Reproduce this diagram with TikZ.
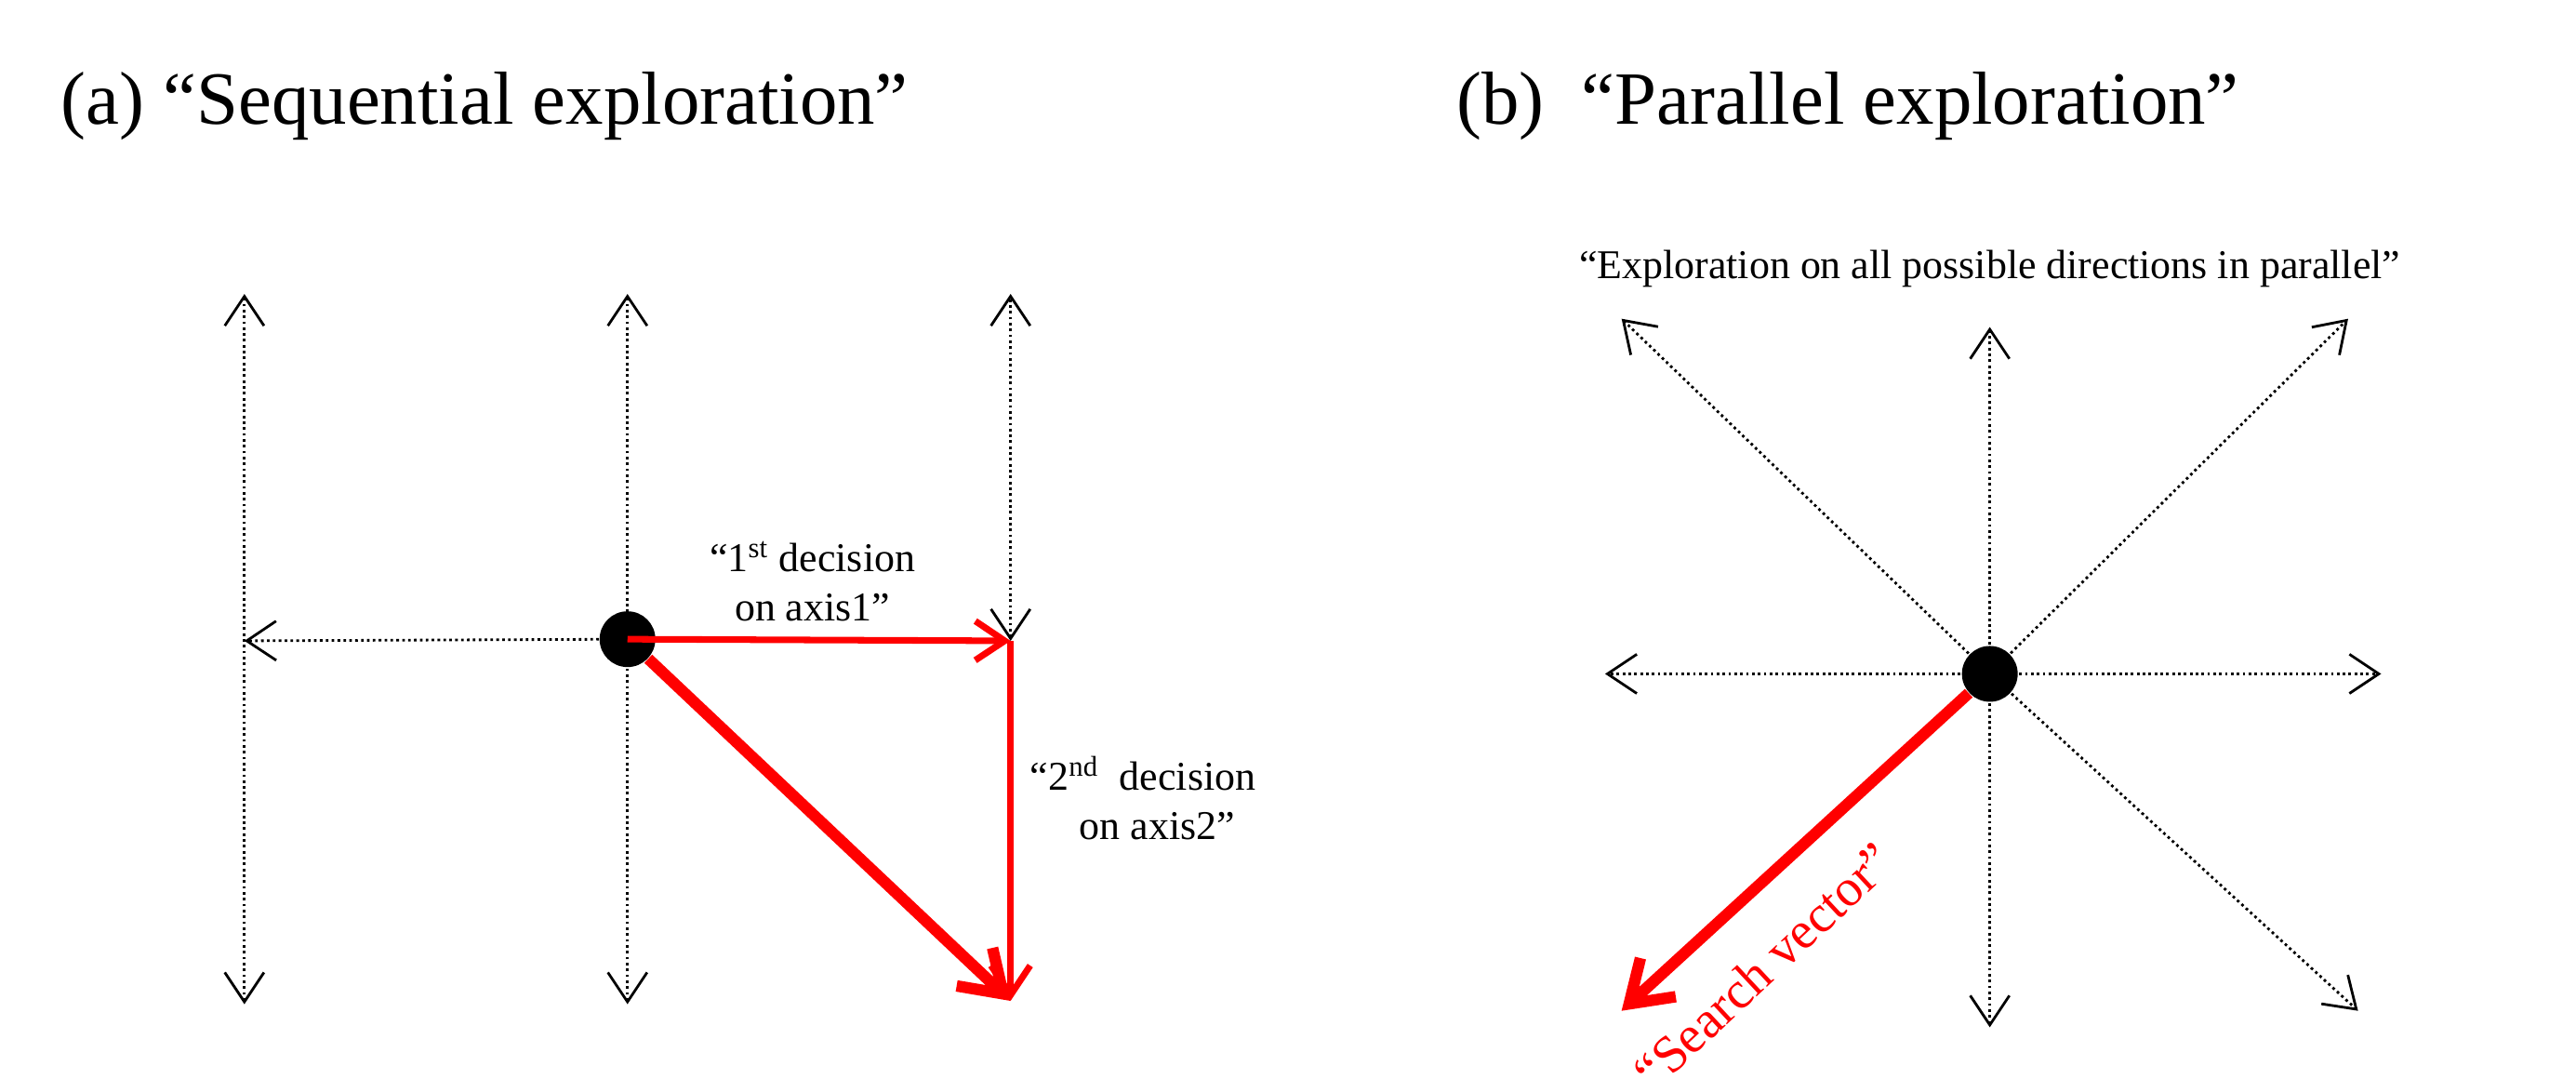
\documentclass[tikz,border=0pt]{standalone}
\usepackage{fontspec}
\setmainfont{Liberation Serif}
\usetikzlibrary{arrows.meta}
\begin{document}
\begin{tikzpicture}[x=0.01776cm, y=-0.01776cm,
  axe/.style={densely dotted, thick, {Straight Barb[length=9pt,width=12pt]}-{Straight Barb[length=9pt,width=12pt]}},
  ray/.style={densely dotted, thick, -{Straight Barb[length=9pt,width=12pt]}},
  pas/.style={draw=red, line width=2pt, -{Straight Barb[length=9pt,width=12pt]}},
  vecteur/.style={draw=red, line width=3.5pt, -{Straight Barb[length=12pt,width=16pt]}},
  titre/.style={font=\fontsize{23}{27}\selectfont, anchor=west},
  note/.style={font=\fontsize{12.5}{15}\selectfont, align=center},
  point/.style={circle, fill=black, minimum size=0.6cm, inner sep=0pt}
]
\useasboundingbox (0,0) rectangle (1560,653);
%  (a) exploration sequentielle
\node[titre] (ta) at (30,64) {(a) “Sequential exploration”};
\node[point] (oa) at (380,387) {};
\coordinate (h1) at (148,178); \coordinate (b1) at (148,608);
\coordinate (h2) at (380,178); \coordinate (b2) at (380,608);
\coordinate (h3) at (612,178); \coordinate (b3) at (612,388);
\coordinate (g) at (148,388);
\coordinate (fin) at (612,606);
\draw[axe] (b1) -- (h1);
\draw[axe] (b2) -- (h2);
\draw[axe] (b3) -- (h3);
\draw[ray] (oa) -- (g);
\draw[pas] (oa.center) -- (b3);
\draw[pas] (b3) -- (fin);
\draw[vecteur] (oa) -- (fin);
\node[note] (d1) at (492,352) {“1\textsuperscript{st} decision\\ on axis1”};
\node[note, anchor=west] (d2) at (617,483) {“2\textsuperscript{nd}\ \ decision\\ \hspace*{0.7em}on axis2”};
%  (b) exploration parallele
\node[titre] (tb) at (875,64) {(b)\ \ “Parallel exploration”};
\node[note] (tout) at (1205,163) {“Exploration on all possible directions in parallel”};
\node[point] (ob) at (1205,408) {};
\foreach \nom/\x/\y in {n/1205/198, s/1205/622, o/972/408, e/1442/408, ne/1422/193, no/982/193, se/1428/612}
  \draw[ray] (ob.center) -- (\x,\y) coordinate (\nom);
\coordinate (so) at (982,612);
\draw[vecteur] (ob) -- (so);
\node[red, font=\fontsize{16}{19}\selectfont, rotate=43] (sv) at (1068,585) {“Search vector”};
\end{tikzpicture}
\end{document}
